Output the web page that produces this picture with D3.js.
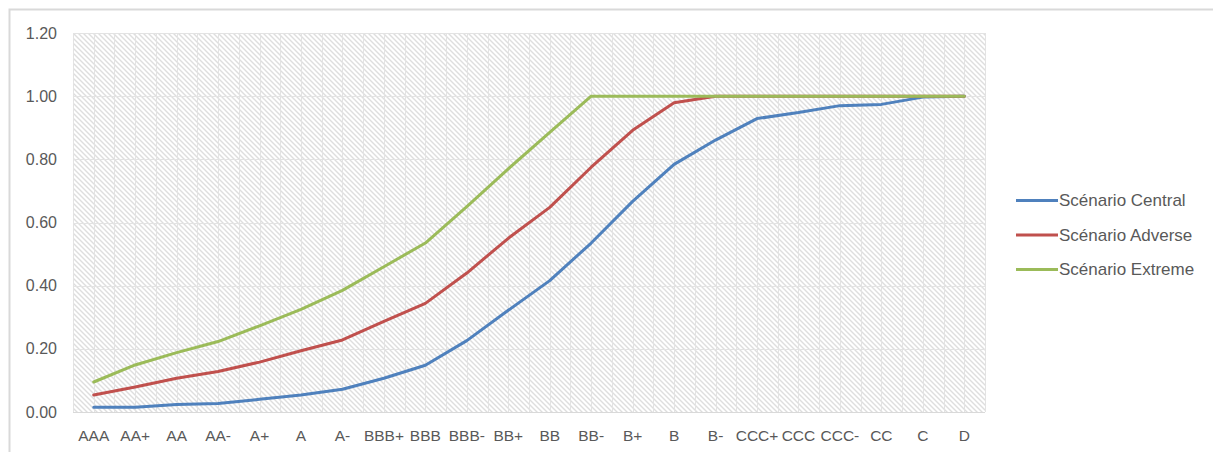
<!DOCTYPE html>
<html>
<head>
<meta charset="utf-8">
<script src="https://cdn.jsdelivr.net/npm/d3@7"></script>
<style>
  html, body { margin: 0; padding: 0; background: #fff; }
  svg { display: block; }
  text { font-family: "Liberation Sans", "DejaVu Sans", sans-serif; fill: #595959; }
</style>
</head>
<body>
<svg id="chart" width="1213" height="452"></svg>
<script>
// Rating grades on the x axis
const ratings = ["AAA", "AA+", "AA", "AA-", "A+", "A", "A-", "BBB+", "BBB", "BBB-",
  "BB+", "BB", "BB-", "B+", "B", "B-", "CCC+", "CCC", "CCC-", "CC", "C", "D"];

// Cumulative values per scenario
const central = [0.015, 0.015, 0.024, 0.027, 0.040, 0.054, 0.072, 0.107, 0.148, 0.226,
  0.322, 0.416, 0.535, 0.667, 0.784, 0.861, 0.929, 0.948, 0.970, 0.974, 0.997, 1.000];
const adverse = [0.054, 0.079, 0.107, 0.128, 0.158, 0.194, 0.228, 0.287, 0.344, 0.440,
  0.550, 0.648, 0.775, 0.892, 0.979, 1.000, 1.000, 1.000, 1.000, 1.000, 1.000, 1.000];
const extreme = [0.095, 0.149, 0.188, 0.223, 0.273, 0.325, 0.385, 0.460, 0.535, 0.650,
  0.770, 0.885, 1.000, 1.000, 1.000, 1.000, 1.000, 1.000, 1.000, 1.000, 1.000, 1.000];

const seriesNames = ["Scénario Central", "Scénario Adverse", "Scénario Extreme"];
const seriesColors = ["#4F81BD", "#C0504D", "#9BBB59"];
const yTicks = [0, 0.2, 0.4, 0.6, 0.8, 1.0, 1.2];

const series = [central, adverse, extreme].map((values, i) => ({
  name: seriesNames[i], color: seriesColors[i], values
}));

const svg = d3.select("#chart");
const plot = { left: 73, right: 985, top: 33, bottom: 412 };

// Outer chart frame
svg.append("path")
  .attr("d", `M9.5,452 V9.5 H1213`)
  .attr("fill", "none")
  .attr("stroke", "#d9d9d9")
  .attr("stroke-width", 2);

// Diagonal hatch fill for the plot area
const defs = svg.append("defs");
const pat = defs.append("pattern")
  .attr("id", "hatch")
  .attr("patternUnits", "userSpaceOnUse")
  .attr("width", 5).attr("height", 5);
pat.append("rect").attr("width", 5).attr("height", 5).attr("fill", "#ffffff");
pat.append("path")
  .attr("d", "M-1,-1 L6,6 M-1,4 L1,6 M4,-1 L6,1")
  .attr("stroke", "#dedede")
  .attr("stroke-width", 1.4);

const x = d3.scaleBand().domain(ratings).range([plot.left, plot.right]).paddingInner(0).paddingOuter(0);
const xc = d => x(d) + x.bandwidth() / 2;
const y = d3.scaleLinear().domain([0, 1.2]).range([plot.bottom, plot.top]);

svg.append("rect")
  .attr("x", plot.left).attr("y", plot.top)
  .attr("width", plot.right - plot.left).attr("height", plot.bottom - plot.top)
  .attr("fill", "url(#hatch)");

// Gridlines: vertical at band edges and band centres, horizontal at y ticks
const vLines = [];
ratings.forEach(r => { vLines.push(x(r)); vLines.push(xc(r)); });
vLines.push(plot.right);
svg.append("g").selectAll("line").data(vLines).join("line")
  .attr("x1", d => Math.round(d) + 0.5).attr("x2", d => Math.round(d) + 0.5)
  .attr("y1", plot.top).attr("y2", plot.bottom)
  .attr("stroke", "#e3e3e3").attr("stroke-width", 1);

svg.append("g").selectAll("line").data(yTicks).join("line")
  .attr("x1", plot.left).attr("x2", plot.right)
  .attr("y1", d => Math.round(y(d)) + 0.5).attr("y2", d => Math.round(y(d)) + 0.5)
  .attr("stroke", d => d === 0 ? "#d9d9d9" : "#e3e3e3").attr("stroke-width", 1);

// Y axis labels
const yAxis = d3.axisLeft(y).tickValues(yTicks).tickFormat(d3.format(".2f")).tickSize(0).tickPadding(16);
const gy = svg.append("g").attr("transform", `translate(${plot.left},0)`).call(yAxis);
gy.select(".domain").remove();
gy.selectAll("text").attr("font-size", 16).style("fill", "#595959")
  .style("font-family", "'Liberation Sans', sans-serif");

// X axis labels
const xAxis = d3.axisBottom(x).tickSize(0).tickPadding(18);
const gx = svg.append("g").attr("transform", `translate(0,${plot.bottom})`).call(xAxis);
gx.select(".domain").remove();
gx.selectAll("text").attr("font-size", 15.5).style("fill", "#595959")
  .style("font-family", "'Liberation Sans', sans-serif");

// Scenario lines
const line = d3.line().x((d, i) => xc(ratings[i])).y(d => y(d));
svg.append("g").selectAll("path").data(series).join("path")
  .attr("d", d => line(d.values))
  .attr("fill", "none")
  .attr("stroke", d => d.color)
  .attr("stroke-width", 3)
  .attr("stroke-linejoin", "round")
  .attr("stroke-linecap", "round");

// Legend
const legend = svg.append("g").selectAll("g").data(series).join("g")
  .attr("transform", (d, i) => `translate(1016,${200.5 + i * 34.5})`);
legend.append("line")
  .attr("x1", 0).attr("x2", 42).attr("y1", 0).attr("y2", 0)
  .attr("stroke", d => d.color).attr("stroke-width", 3);
legend.append("text")
  .attr("x", 43).attr("y", 0).attr("dy", "0.35em")
  .attr("font-size", 17)
  .text(d => d.name);
</script>
</body>
</html>
